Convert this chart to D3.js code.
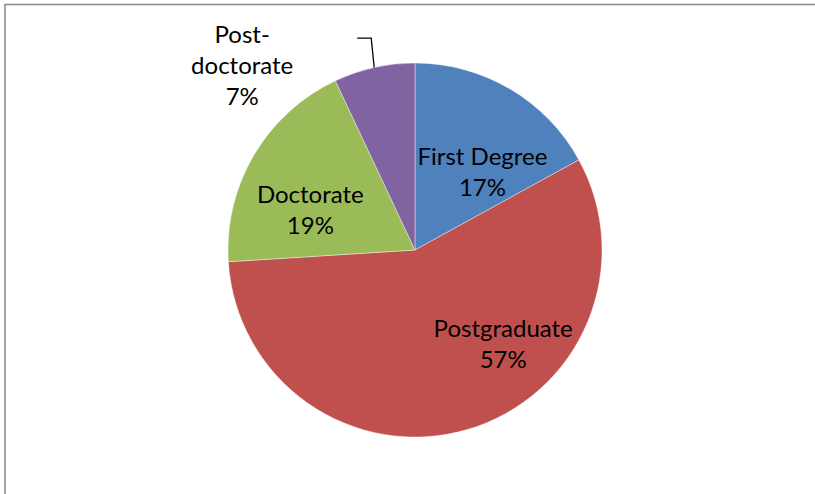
<!DOCTYPE html>
<html>
<head>
<meta charset="utf-8">
<script src="https://cdn.jsdelivr.net/npm/d3@7"></script>
<style>
  html, body { margin: 0; padding: 0; background: #fff; }
  svg { display: block; }
</style>
</head>
<body>
<svg id="chart" width="815" height="494"></svg>
<script>
// Share of respondents by highest qualification
const categories = ["First Degree", "Postgraduate", "Doctorate", "Post-doctorate"];
const values = [17, 57, 19, 7];
const colors = ["#4F81BD", "#C0504D", "#9BBB59", "#8064A2"];
// Label text lines per slice
const labelLines = [["First Degree", "17%"], ["Postgraduate", "57%"], ["Doctorate", "19%"], ["Post-", "doctorate", "7%"]];

const W = 815, H = 494;
const cx = 415, cy = 250, R = 187;
const lineH = 31;

const svg = d3.select("#chart");

// Chart frame (extends past right and bottom edges)
svg.append("rect")
  .attr("x", 5).attr("y", 4.5)
  .attr("width", 830).attr("height", 520)
  .attr("fill", "#fff")
  .attr("stroke", "#878787")
  .attr("stroke-width", 1.5);

const pie = d3.pie().sort(null).value(d => d)
  .startAngle(0).endAngle(2 * Math.PI);
const arcs = pie(values);
const arc = d3.arc().innerRadius(0).outerRadius(R);

const g = svg.append("g").attr("transform", `translate(${cx},${cy})`);

g.selectAll("path.slice")
  .data(arcs)
  .join("path")
  .attr("class", "slice")
  .attr("d", arc)
  .attr("fill", (d, i) => colors[i])
  .attr("stroke", "#fff")
  .attr("stroke-width", 0.4);

// Label placement: polar position (radius, angle offset from slice middle)
const labelPlace = [
  { r: 103, da: 0.18 },
  { r: 129, da: -0.47 },
  { r: 112, da: -0.17 },
  { r: 253, da: -0.532 }
];

function labelCenter(d, i) {
  const a = (d.startAngle + d.endAngle) / 2 + labelPlace[i].da;
  const r = labelPlace[i].r;
  return [r * Math.sin(a), -r * Math.cos(a)];
}

const font = "Lato, 'Open Sans', sans-serif";

arcs.forEach((d, i) => {
  const [lx, ly] = labelCenter(d, i);
  const lines = labelLines[i];
  const t = g.append("text")
    .attr("text-anchor", "middle")
    .attr("font-family", font)
    .attr("font-size", 24)
    .attr("fill", "#000");
  const top = ly - (lines.length - 1) * lineH / 2;
  lines.forEach((s, k) => {
    t.append("tspan")
      .attr("x", lx)
      .attr("y", top + k * lineH)
      .attr("dy", "0.35em")
      .text(s);
  });
});

// Leader line for the outside label of the small slice
{
  const d = arcs[3];
  const mid = (d.startAngle + d.endAngle) / 2;
  const edge = [R * Math.sin(mid), -R * Math.cos(mid)];
  const [lx, ly] = labelCenter(d, 3);
  const elbowY = ly - 27;
  const pts = [[lx + 115, elbowY], [lx + 129, elbowY], edge];
  g.append("path")
    .attr("d", d3.line()(pts))
    .attr("fill", "none")
    .attr("stroke", "#000")
    .attr("stroke-width", 1.3);
}
</script>
</body>
</html>
